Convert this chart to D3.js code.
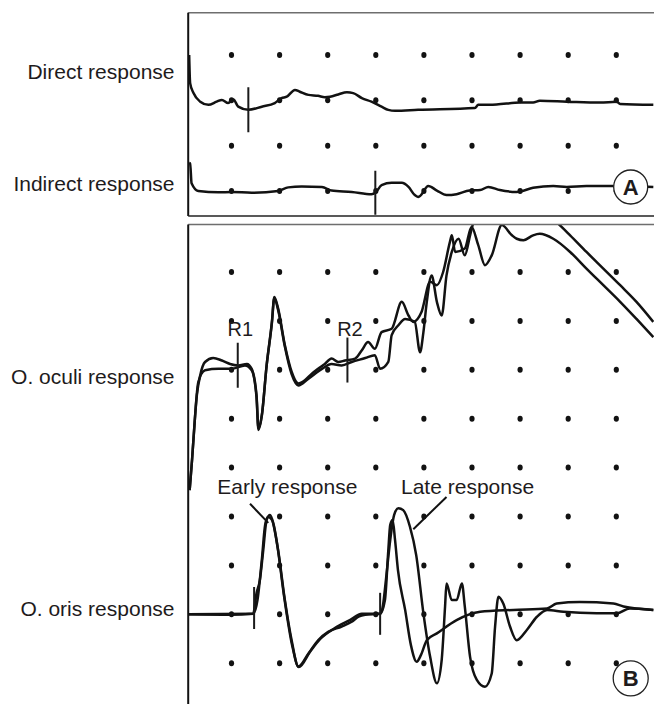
<!DOCTYPE html>
<html>
<head>
<meta charset="utf-8">
<script src="https://cdn.jsdelivr.net/npm/d3@7"></script>
<style>
body { margin: 0; background: #fff; }
text { font-family: "Liberation Sans", Arial, sans-serif; fill: #1e1b1c; }
</style>
</head>
<body>
<svg width="654" height="704"></svg>
<script>
// grid: 10 ms per division, dots on every division
var gridTimes = [10, 20, 30, 40, 50, 60, 70, 80, 90];
var gridRowsA = [0, 1, 2, 3];
var gridRowsB = [0, 1, 2, 3, 4, 5, 6, 7, 8];

// panel A traces, [time ms, amplitude div]
var directResponse = [[1.2,1.00],[1.4,0.38],[2.1,0.16],[3.5,-0.03],[5.2,-0.10],[6.9,-0.03],[8.0,0.01],[9.3,-0.06],[10.4,0.02],[11.4,-0.14],[13.5,-0.21],[16.3,-0.14],[19.0,-0.06],[20.4,0.05],[21.5,0.08],[23.2,0.23],[24.2,0.19],[26.0,0.12],[28.0,0.10],[29.4,0.07],[30.5,0.08],[32.2,0.13],[34.0,0.18],[35.3,0.16],[37.1,0.05],[39.1,-0.03],[41.2,-0.14],[42.6,-0.21],[44.0,-0.23],[48.8,-0.21],[60.6,-0.17],[61.3,-0.10],[65.1,-0.09],[70.0,-0.05],[72.7,-0.05],[74.1,-0.01],[79.7,-0.03],[86.6,-0.05],[90.1,-0.03],[90.8,-0.08],[97.7,-0.10]];
var indirectResponse = [[1.2,0.62],[1.4,0.61],[1.7,0.17],[3.1,0.00],[7.3,-0.03],[10.0,-0.02],[14.2,-0.04],[19.7,0.00],[21.8,0.08],[24.6,0.10],[28.8,0.09],[30.8,0.01],[35.0,-0.02],[39.1,-0.07],[39.9,-0.04],[41.2,0.13],[43.3,0.18],[45.4,0.18],[46.8,0.09],[48.1,-0.09],[48.8,-0.13],[49.2,-0.11],[50.9,0.11],[52.7,0.01],[54.7,-0.09],[56.8,-0.07],[59.5,0.01],[61.7,0.02],[63.4,0.09],[65.8,0.02],[69.3,-0.02],[72.7,0.07],[76.9,0.11],[79.7,0.09],[83.8,0.11],[89.4,0.11],[97.7,0.09]];
var directMarks = [13.5];
var indirectMarks = [39.9];

// panel B, two superimposed sweeps per muscle
var oculiSweep1 = [[1.3,-0.46],[1.8,0.16],[2.1,0.59],[2.8,1.48],[3.5,1.89],[4.5,2.16],[6.2,2.24],[8.0,2.19],[9.7,2.12],[11.4,2.09],[13.2,2.12],[14.2,2.02],[15.2,1.48],[15.6,0.80],[16.3,1.07],[17.3,2.09],[18.4,2.98],[18.9,3.49],[19.7,3.25],[21.1,2.50],[22.5,1.96],[23.9,1.72],[25.3,1.79],[26.7,1.92],[28.0,2.02],[29.4,2.12],[30.8,2.23],[32.2,2.16],[33.6,2.19],[35.7,2.23],[37.1,2.40],[38.4,2.57],[39.8,2.43],[41.2,2.77],[43.3,2.84],[45.4,3.39],[46.8,3.11],[47.8,2.98],[49.5,3.18],[51.3,3.80],[52.7,3.73],[54.0,4.00],[55.4,4.61],[55.8,4.75],[56.5,4.41],[58.5,4.48],[59.9,4.92],[61.3,4.55],[62.7,4.14],[64.1,4.34],[66.2,4.96],[68.3,4.75],[69.3,4.68],[70.7,4.65],[72.7,4.75],[74.1,4.78],[76.9,4.68],[80.4,4.41],[83.8,4.07],[87.3,3.73],[90.8,3.39],[94.2,3.04],[97.7,2.67]];
var oculiSweep2 = [[1.3,-0.46],[1.8,0.16],[2.1,0.59],[3.1,1.75],[4.5,1.99],[7.3,2.02],[10.0,2.02],[12.8,2.09],[14.2,1.99],[15.2,1.44],[15.6,0.77],[16.3,1.06],[17.3,2.08],[18.4,2.96],[18.9,3.47],[19.7,3.22],[21.1,2.47],[22.5,1.91],[23.9,1.68],[26.0,1.82],[28.8,2.02],[30.8,2.12],[32.9,2.09],[35.0,2.16],[37.8,2.24],[39.8,2.30],[40.9,2.02],[42.6,2.16],[43.3,2.71],[44.7,2.91],[46.1,3.04],[48.1,2.98],[49.2,2.36],[49.9,2.77],[50.6,3.39],[51.6,3.93],[52.7,3.39],[53.7,3.11],[54.7,3.93],[55.8,4.41],[57.2,4.68],[58.5,4.34],[59.6,4.75],[60.3,5.02],[61.7,5.31],[65.8,5.55],[72.1,5.47],[77.6,5.02],[80.4,4.75],[83.8,4.41],[87.3,4.07],[90.8,3.73],[94.2,3.39],[97.7,2.98]];
var orisSweep1 = [[1.0,0.00],[9.7,-0.01],[14.5,0.01],[15.2,0.43],[15.9,0.70],[16.6,1.31],[17.3,1.93],[18.0,2.03],[18.7,1.86],[19.7,1.31],[21.1,0.29],[22.5,-0.53],[23.9,-1.07],[26.0,-0.80],[28.0,-0.53],[30.1,-0.36],[32.9,-0.25],[35.0,-0.15],[36.4,-0.05],[37.8,-0.01],[40.9,0.01],[41.9,0.29],[42.6,1.31],[43.0,1.83],[43.5,1.93],[44.0,1.52],[44.6,0.91],[46.1,0.09],[47.3,-0.63],[48.5,-0.97],[49.4,-0.83],[50.6,-0.53],[52.7,-0.39],[56.8,-0.12],[61.7,0.05],[68.6,0.09],[75.6,0.12],[77.6,0.22],[82.4,0.25],[89.4,0.22],[91.5,0.16],[97.7,0.09]];
var orisSweep2 = [[1.0,0.00],[14.5,0.01],[15.4,0.29],[16.3,1.11],[17.0,1.83],[17.6,1.99],[18.4,1.93],[19.5,1.42],[20.9,0.39],[22.6,-0.63],[24.0,-1.08],[26.3,-0.77],[28.4,-0.51],[31.5,-0.28],[34.6,-0.12],[37.1,0.01],[40.9,0.01],[41.5,0.19],[42.1,0.70],[43.0,1.52],[43.8,2.03],[44.7,2.17],[45.7,2.13],[47.1,1.79],[48.4,1.21],[49.9,0.02],[51.3,-0.87],[52.7,-1.41],[53.7,-0.93],[54.4,0.16],[54.7,0.63],[55.8,0.29],[56.8,0.29],[57.9,0.63],[58.5,0.16],[59.6,-0.87],[61.0,-1.34],[62.7,-1.48],[64.1,-1.21],[64.8,-0.25],[65.5,0.36],[66.5,0.22],[67.9,-0.25],[69.3,-0.53],[71.4,-0.32],[73.5,-0.05],[75.6,0.09],[79.0,0.05],[85.9,0.02],[90.1,0.02],[92.8,0.12],[97.7,0.09]];
var oculiMarks = [{t: 11.3, label: "R1"}, {t: 34.1, label: "R2"}];
var orisMarks = [14.7, 40.9];

var svg = d3.select("svg"),
		width = +svg.attr("width"),
		height = +svg.attr("height");

var x = d3.scaleLinear().domain([10, 90]).range([231.5, 616.3]),
		yA = d3.scaleLinear().domain([0, 3]).range([191, 55]),
		yB = d3.scaleLinear().domain([0, 8]).range([663.2, 272]);

var left = x(1),
		panelA = {top: 12.7, bottom: 216},
		panelB = {top: 224.5, bottom: height + 2};

svg.append("rect").attr("width", width).attr("height", height).attr("fill", "#fff");

var defs = svg.append("defs");
[["clipA", panelA], ["clipB", panelB]].forEach(function(c) {
	defs.append("clipPath").attr("id", c[0])
		.append("rect")
			.attr("x", left).attr("y", c[1].top)
			.attr("width", width - left).attr("height", c[1].bottom - c[1].top);
});

function traceLine(yScale, base) {
	return d3.line()
		.curve(d3.curveMonotoneX)
		.x(function(d) { return x(d[0]); })
		.y(function(d) { return yScale(d[1] + base); });
}

function valueAt(series, t) {
	var i = d3.bisector(function(d) { return d[0]; }).left(series, t);
	if (i <= 0) return series[0][1];
	if (i >= series.length) return series[series.length - 1][1];
	var a = series[i - 1], b = series[i], k = (t - a[0]) / (b[0] - a[0]);
	return a[1] + k * (b[1] - a[1]);
}

function drawDots(g, rows, yScale) {
	rows.forEach(function(r) {
		g.selectAll(null)
			.data(gridTimes)
			.enter().append("ellipse")
				.attr("cx", function(d) { return x(d); })
				.attr("cy", yScale(r))
				.attr("rx", 2.6)
				.attr("ry", 3)
				.attr("fill", "#121212");
	});
}

function drawTrace(g, series, yScale, base) {
	g.append("path")
		.attr("d", traceLine(yScale, base)(series))
		.attr("fill", "none")
		.attr("stroke", "#121212")
		.attr("stroke-width", 2.5)
		.attr("stroke-linejoin", "round");
}

function drawMark(g, series, t, yScale, base, half) {
	var cy = yScale(valueAt(series, t) + base);
	g.append("line")
		.attr("x1", x(t)).attr("x2", x(t))
		.attr("y1", cy - half).attr("y2", cy + half)
		.attr("stroke", "#1a1a1a")
		.attr("stroke-width", 2);
}

// ---- panel A
var gA = svg.append("g").attr("clip-path", "url(#clipA)");
drawDots(gA, gridRowsA, yA);
drawTrace(gA, directResponse, yA, 2);
drawTrace(gA, indirectResponse, yA, 0);
directMarks.forEach(function(t) { drawMark(gA, directResponse, t, yA, 2, 22.5); });
indirectMarks.forEach(function(t) { drawMark(gA, indirectResponse, t, yA, 0, 22); });

// ---- panel B
var gB = svg.append("g").attr("clip-path", "url(#clipB)");
drawDots(gB, gridRowsB, yB);
drawTrace(gB, oculiSweep1, yB, 4);
drawTrace(gB, oculiSweep2, yB, 4);
drawTrace(gB, orisSweep1, yB, 1);
drawTrace(gB, orisSweep2, yB, 1);
oculiMarks.forEach(function(m) { drawMark(gB, oculiSweep1, m.t, yB, 4, 22.5); });
orisMarks.forEach(function(t) { drawMark(gB, orisSweep1, t, yB, 1, 21); });

// frames
[panelA, panelB].forEach(function(p) {
	svg.append("line")
		.attr("x1", left).attr("x2", width)
		.attr("y1", p.top).attr("y2", p.top)
		.attr("stroke", "#6e6e6e").attr("stroke-width", 1.6);
	svg.append("line")
		.attr("x1", left).attr("x2", left)
		.attr("y1", p.top).attr("y2", p.bottom)
		.attr("stroke", "#111").attr("stroke-width", 2);
});
svg.append("line")
	.attr("x1", left).attr("x2", width)
	.attr("y1", panelA.bottom).attr("y2", panelA.bottom)
	.attr("stroke", "#222").attr("stroke-width", 1.6);

// row labels
var rowLabels = [
	{text: "Direct response", y: 79.3},
	{text: "Indirect response", y: 190.7},
	{text: "O. oculi response", y: 383.5},
	{text: "O. oris response", y: 616}
];
svg.selectAll(".rowlabel")
	.data(rowLabels)
	.enter().append("text")
		.attr("class", "rowlabel")
		.attr("x", 174.5)
		.attr("y", function(d) { return d.y; })
		.attr("text-anchor", "end")
		.style("font-size", "21px")
		.text(function(d) { return d.text; });

// R1 / R2
oculiMarks.forEach(function(m) {
	svg.append("text")
		.attr("x", x(m.t) + 2.5)
		.attr("y", yB(4 + 2.69))
		.attr("text-anchor", "middle")
		.style("font-size", "20px")
		.text(m.label);
});

// early / late annotations
svg.append("text")
	.attr("x", 217.3).attr("y", 494.3)
	.style("font-size", "21px")
	.text("Early response");
svg.append("text")
	.attr("x", 401).attr("y", 494.3)
	.style("font-size", "21px")
	.text("Late response");
[[13.85, 2.26, 17.65, 1.87], [54.7, 2.40, 47.8, 1.74]].forEach(function(p) {
	svg.append("line")
		.attr("x1", x(p[0])).attr("y1", yB(p[1] + 1))
		.attr("x2", x(p[2])).attr("y2", yB(p[3] + 1))
		.attr("stroke", "#111").attr("stroke-width", 2);
});

// panel badges
[{label: "A", cx: 630.7, cy: 187, r: 17}, {label: "B", cx: 630.7, cy: 678.3, r: 17.5}].forEach(function(b) {
	svg.append("circle")
		.attr("cx", b.cx).attr("cy", b.cy).attr("r", b.r)
		.attr("fill", "#fff").attr("stroke", "#222").attr("stroke-width", 1.3);
	svg.append("text")
		.attr("x", b.cx).attr("y", b.cy + 7.8)
		.attr("text-anchor", "middle")
		.style("font-size", "22px")
		.style("font-weight", "bold")
		.text(b.label);
});
</script>
</body>
</html>
